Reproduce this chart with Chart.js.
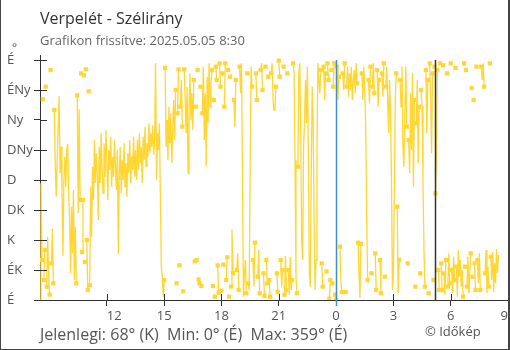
<!DOCTYPE html>
<html>
<head>
<meta charset="utf-8">
<script src="https://cdn.jsdelivr.net/npm/chart.js@4"></script>
<style>
  html, body { margin: 0; padding: 0; background: #fff; overflow: hidden; }
</style>
</head>
<body>
<canvas id="windChart" width="510" height="350"></canvas>
<script>
const stationTitle = 'Verpelét - Szélirány'
const updatedText = 'Grafikon frissítve: 2025.05.05 8:30'
const creditText = '© Időkép'

// 3 minute readings from 8:30 to 8:30 next day (hours since midnight of the first day)
const startHour = 8.5
const stepMinutes = 3
const directionNames = ['É', 'ÉK', 'K', 'DK', 'D', 'DNy', 'Ny', 'ÉNy', 'É']
const directionTicks = [0, 45, 90, 135, 180, 225, 270, 315, 360]
const hourTicks = [12, 15, 18, 21, 24, 27, 30, 33]
const midnightHour = 24
const sunriseHour = 29.2

// wind direction in degrees, one row per hour
const direction = [
  0, 175, 60, 301, 30, 75, 320, 20, 95, 40, 8, 345, 55, 107, 25, 285, 200, 155, 210, 258,
  306, 190, 230, 165, 66, 180, 215, 170, 225, 234, 160, 120, 40, 140, 70, 165, 30, 110, 25, 307,
  130, 286, 150, 340, 72, 150, 337, 57, 346, 90, 15, 313, 22, 170, 95, 200, 150, 240, 175, 220,
  190, 120, 230, 175, 250, 200, 160, 235, 185, 255, 210, 150, 225, 195, 245, 170, 215, 185, 240, 200,
  165, 225, 69, 190, 230, 160, 210, 180, 235, 170, 205, 155, 220, 190, 240, 175, 215, 195, 245, 185,
  225, 180, 240, 195, 250, 205, 230, 175, 245, 210, 260, 200, 235, 215, 265, 220, 250, 230, 262, 218,
  240, 355, 180, 250, 225, 265, 160, 51, 36, 5, 30, 348, 230, 270, 210, 290, 235, 280, 205, 260,
  300, 240, 315, 25, 280, 346, 52, 290, 330, 260, 13, 346, 300, 250, 320, 190, 285, 340, 270, 310,
  255, 330, 58, 290, 60, 345, 31, 25, 320, 21, 280, 350, 240, 310, 200, 335, 265, 355, 290, 325,
  345, 21, 300, 5, 350, 330, 52, 11, 355, 320, 14, 340, 53, 290, 355, 30, 64, 345, 5, 335,
  20, 106, 40, 300, 260, 330, 45, 70, 15, 350, 310, 355, 180, 5, 40, 60, 10, 340, 25, 15,
  190, 350, 320, 60, 20, 86, 340, 300, 35, 75, 10, 345, 355, 315, 40, 6, 350, 60, 25, 335,
  30, 5, 340, 355, 300, 285, 290, 320, 40, 12, 359, 335, 60, 20, 45, 350, 8, 66, 15, 340,
  45, 8, 65, 15, 30, 355, 340, 210, 35, 10, 200, 340, 355, 250, 90, 60, 230, 270, 330, 265,
  350, 215, 40, 20, 190, 320, 268, 120, 15, 60, 230, 355, 330, 310, 345, 55, 20, 350, 300, 340,
  43, 355, 330, 2, 30, 345, 25, 320, 355, 8, 0, 350, 300, 335, 80, 30, 12, 340, 315, 355,
  12, 320, 350, 305, 340, 315, 350, 300, 330, 345, 310, 355, 325, 86, 40, 3, 84, 340, 300, 350,
  316, 262, 126, 30, 330, 295, 350, 40, 320, 355, 310, 70, 15, 345, 290, 330, 60, 10, 340, 305,
  355, 35, 320, 350, 300, 250, 330, 280, 180, 15, 40, 170, 300, 340, 140, 10, 60, 330, 290, 350,
  230, 200, 280, 350, 260, 55, 240, 190, 310, 225, 340, 170, 300, 20, 265, 330, 205, 290, 40, 315,
  291, 180, 77, 20, 345, 250, 330, 10, 355, 300, 220, 340, 30, 350, 160, 210, 345, 45, 15, 355,
  55, 15, 352, 40, 8, 60, 340, 20, 70, 25, 355, 45, 10, 65, 30, 348, 50, 5, 75, 35,
  60, 20, 45, 5, 355, 50, 345, 20, 65, 10, 40, 70, 318, 35, 300, 55, 15, 350, 60, 25,
  70, 15, 350, 330, 355, 320, 40, 75, 10, 50, 20, 355, 65, 30, 72, 12, 55, 25, 76, 40, 68
]

const points = direction.map((d, i) => ({ x: startHour + i * stepMinutes / 60, y: d }))

const compass = deg => directionNames[Math.round(deg / 45) % 8]
const current = direction[direction.length - 1]
const minDir = Math.min(...direction)
const maxDir = Math.max(...direction)
const summary = `Jelenlegi: ${current}° (${compass(current)})  Min: ${minDir}° (${compass(minDir)})  Max: ${maxDir}° (${compass(maxDir)})`

// no line across north: a jump of more than half a turn is left open,
// and the readings on either side of such a gap get a marker
const wraps = (a, b) => Math.abs(a - b) > 180
const atGap = i => {
  const v = direction[i]
  const before = i > 0 && wraps(direction[i - 1], v)
  const after = i < direction.length - 1 && wraps(v, direction[i + 1])
  return before || after
}

const axisColor = '#333'
const font = 'Open Sans'

const decorations = {
  id: 'decorations',
  afterDatasetsDraw(chart) {
    const { ctx, chartArea, scales } = chart
    const x = scales.x
    const y = scales.y
    ctx.save()
    // midnight and sunrise markers
    let px = Math.round(x.getPixelForValue(midnightHour)) + 0.5
    ctx.strokeStyle = '#3d8fd1'
    ctx.lineWidth = 1.5
    ctx.beginPath()
    ctx.moveTo(px, chartArea.top + 5)
    ctx.lineTo(px, chartArea.bottom + 6)
    ctx.stroke()
    px = Math.round(x.getPixelForValue(sunriseHour)) + 0.5
    ctx.strokeStyle = axisColor
    ctx.beginPath()
    ctx.moveTo(px, chartArea.top + 5)
    ctx.lineTo(px, chartArea.bottom)
    ctx.stroke()
    // tick marks reaching into the plot
    ctx.lineWidth = 1
    ctx.beginPath()
    directionTicks.forEach(v => {
      const py = Math.round(y.getPixelForValue(v)) + 0.5
      ctx.moveTo(chartArea.left, py)
      ctx.lineTo(chartArea.left + 7, py)
    })
    hourTicks.forEach(h => {
      if (h === midnightHour) return
      const tx = Math.round(x.getPixelForValue(h)) + 0.5
      ctx.moveTo(tx, chartArea.bottom)
      ctx.lineTo(tx, chartArea.bottom - 6)
    })
    ctx.stroke()
    ctx.restore()
  },
  afterDraw(chart) {
    const { ctx, width, height } = chart
    ctx.save()
    ctx.textBaseline = 'alphabetic'
    ctx.textAlign = 'left'
    ctx.fillStyle = '#333'
    ctx.font = `16px "${font}"`
    ctx.fillText(stationTitle, 40, 24)
    ctx.fillStyle = '#666'
    ctx.font = `13px "${font}"`
    ctx.fillText(updatedText, 40, 45)
    ctx.fillStyle = '#555'
    ctx.font = `12px "${font}"`
    ctx.fillText('°', 12, 52)
    ctx.font = `16px "${font}"`
    ctx.fillText(summary, 40, 340)
    ctx.font = `13px "${font}"`
    ctx.fillText(creditText, 425, 336)
    // frame
    ctx.strokeStyle = '#444'
    ctx.lineWidth = 2
    ctx.beginPath()
    ctx.moveTo(0, 0)
    ctx.lineTo(0, height)
    ctx.lineTo(width, height)
    ctx.moveTo(width - 1, 0)
    ctx.lineTo(width - 1, height)
    ctx.stroke()
    ctx.restore()
  }
}

new Chart(document.getElementById('windChart'), {
  type: 'line',
  data: {
    datasets: [{
      label: 'Szélirány',
      data: points,
      borderColor: '#ffd633',
      backgroundColor: '#ffd633',
      borderWidth: 1.3,
      pointStyle: 'rect',
      pointBorderWidth: 0,
      pointRadius: ctx => atGap(ctx.dataIndex) ? 3 : 0,
      pointHoverRadius: 0,
      tension: 0,
      segment: {
        borderColor: ctx => wraps(ctx.p0.parsed.y, ctx.p1.parsed.y) ? 'rgba(0,0,0,0)' : undefined
      }
    }]
  },
  options: {
    responsive: false,
    animation: false,
    layout: { padding: { top: 55, left: 7, right: 0.5, bottom: 25 } },
    plugins: {
      legend: { display: false },
      tooltip: { enabled: false }
    },
    scales: {
      x: {
        type: 'linear',
        min: startHour,
        max: 33,
        afterBuildTicks: scale => { scale.ticks = hourTicks.map(v => ({ value: v })) },
        afterFit: scale => { scale.height = 25 },
        border: { color: axisColor, width: 1 },
        grid: { drawOnChartArea: false, tickLength: 6, color: axisColor },
        ticks: {
          align: 'inner',
          padding: 2,
          color: '#555',
          font: { family: font, size: 13 },
          callback: v => v % 24
        }
      },
      y: {
        min: 0,
        max: 367.5,
        afterBuildTicks: scale => { scale.ticks = directionTicks.map(v => ({ value: v })) },
        afterFit: scale => { scale.width = 33 },
        border: { color: axisColor, width: 1 },
        grid: { drawOnChartArea: false, tickLength: 6, color: axisColor },
        ticks: {
          crossAlign: 'far',
          color: '#555',
          font: { family: font, size: 13 },
          callback: v => directionNames[directionTicks.indexOf(v)]
        }
      }
    }
  },
  plugins: [decorations]
})
</script>
</body>
</html>
